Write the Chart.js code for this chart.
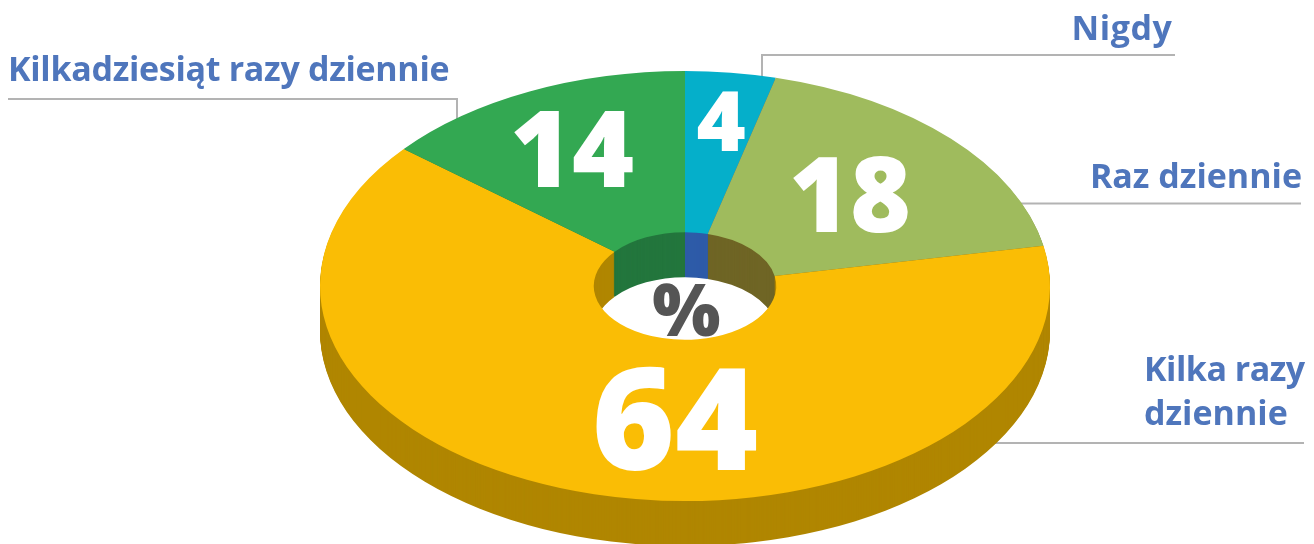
<!DOCTYPE html>
<html lang="pl">
<head>
<meta charset="utf-8">
<title>Wykres</title>
<script src="https://cdn.jsdelivr.net/npm/chart.js@4"></script>
<style>
html,body{margin:0;padding:0;background:#fff;overflow:hidden}
#wrap{position:relative;width:1314px;height:544px}
</style>
</head>
<body>
<div id="wrap"><canvas id="c" width="1314" height="544"></canvas></div>
<script>
const categories = ["Nigdy", "Raz dziennie", "Kilka razy dziennie", "Kilkadziesiąt razy dziennie"];
const values = [4, 18, 64, 14];
const topColors = ["#05AFCA", "#9FBB5D", "#FABD05", "#33A852"];
const sideColors = ["#2E5BA8", "#6F6525", "#B08600", "#23763D"];
const unitLabel = "%";

const FONT = '"Open Sans", sans-serif';
const TEXT = "#4F76BC";
const LEADER = "#B3B3B3";
const RX = 365, RY = 215, DEPTH = 45;

// drawing layout for annotations, keyed by slice order
const numberLayout = [
  {x: 721, y: 127, size: 84},
  {x: 850, y: 202, size: 104},
  {x: 675, y: 430, size: 142},
  {x: 572, y: 157, size: 106}
];
const labelLayout = [
  {lines: ["Nigdy"], x: 1172.5, y: 40, align: "right", spacing: ["0.6px"]},
  {lines: ["Raz dziennie"], x: 1302, y: 188, align: "right", spacing: ["0px"]},
  {lines: ["Kilka razy", "dziennie"], x: 1144, y: 381, align: "left", lead: 44, spacing: ["-0.5px", "0px"]},
  {lines: ["Kilkadziesiąt razy dziennie"], x: 8, y: 81, align: "left", spacing: ["-0.3px"]}
];
const leaderPaths = [
  [[762, 90], [762, 55], [1175, 55]],
  [[1010, 203.5], [1301, 203.5]],
  [[980, 443], [1304, 443]],
  [[8, 99], [457, 99], [457, 130]]
];

const pie3d = {
  id: "pie3d",
  beforeDatasetsDraw(chart) {
    const ctx = chart.ctx;
    const arcs = chart.getDatasetMeta(0).data;
    const {x, y, outerRadius: r} = arcs[0];
    const sx = RX / r, sy = RY / r;

    // leader lines sit underneath the pie
    ctx.save();
    ctx.strokeStyle = LEADER;
    ctx.lineWidth = 2;
    leaderPaths.forEach(p => {
      ctx.beginPath();
      p.forEach((q, i) => i ? ctx.lineTo(q[0], q[1]) : ctx.moveTo(q[0], q[1]));
      ctx.stroke();
    });
    ctx.restore();

    // extruded body built from the library's arc geometry
    for (let d = DEPTH; d >= 1; d--) {
      arcs.forEach((a, i) => {
        ctx.save();
        ctx.translate(x, y + d);
        ctx.scale(sx, sy);
        ctx.beginPath();
        ctx.arc(0, 0, a.outerRadius, a.startAngle, a.endAngle);
        ctx.arc(0, 0, a.innerRadius, a.endAngle, a.startAngle, true);
        ctx.closePath();
        ctx.fillStyle = sideColors[i];
        ctx.fill();
        ctx.restore();
      });
    }
    ctx.save();
    ctx.translate(x, y);
    ctx.scale(sx, sy);
    ctx.translate(-x, -y);
  },
  afterDatasetsDraw(chart) {
    const ctx = chart.ctx;
    ctx.restore();

    ctx.save();
    ctx.textBaseline = "alphabetic";
    ctx.fillStyle = TEXT;
    ctx.font = "700 34px " + FONT;
    labelLayout.forEach(l => {
      ctx.textAlign = l.align;
      l.lines.forEach((t, i) => {
        ctx.letterSpacing = l.spacing[i];
        ctx.fillText(t, l.x, l.y + i * (l.lead || 0));
      });
    });
    ctx.letterSpacing = "0px";

    ctx.fillStyle = "#fff";
    ctx.textAlign = "center";
    ctx.textBaseline = "middle";
    values.forEach((v, i) => {
      const n = numberLayout[i];
      ctx.font = "800 " + n.size + "px " + FONT;
      ctx.fillText(String(v), n.x, n.y);
    });

    ctx.fillStyle = "#555555";
    ctx.font = "800 72px " + FONT;
    ctx.fillText(unitLabel, 686.5, 315);
    ctx.restore();
  }
};

new Chart(document.getElementById("c"), {
  type: "doughnut",
  data: {
    labels: categories,
    datasets: [{
      data: values,
      backgroundColor: topColors,
      borderWidth: 0,
      hoverOffset: 0,
      clip: false
    }]
  },
  options: {
    responsive: false,
    animation: false,
    cutout: "25%",
    layout: {padding: {left: 56, top: 28}},
    events: [],
    plugins: {legend: {display: false}, tooltip: {enabled: false}}
  },
  plugins: [pie3d]
});
</script>
</body>
</html>
